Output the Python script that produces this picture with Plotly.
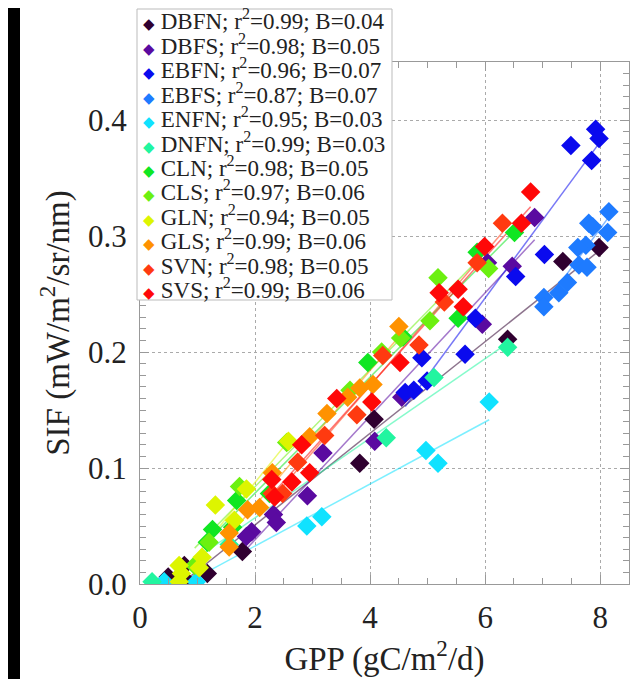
import numpy as np
import plotly.graph_objects as go

# ---- data ----
names = ["DBFN", "DBFS", "EBFN", "EBFS", "ENFN", "DNFN", "CLN", "CLS", "GLN", "GLS", "SVN", "SVS"]
r2 = ["0.99", "0.98", "0.96", "0.87", "0.95", "0.99", "0.98", "0.97", "0.94", "0.99", "0.98", "0.99"]
B = ["0.04", "0.05", "0.07", "0.07", "0.03", "0.03", "0.05", "0.06", "0.05", "0.06", "0.05", "0.06"]
colors = ["#300030", "#5a0aa0", "#0a0aee", "#1e7bff", "#10e2ff", "#22f5a0",
          "#10e622", "#6cf010", "#ddf500", "#ff9200", "#ff3a10", "#ff0808"]

DBFN_x = [7.98, 7.35, 6.39, 4.07, 3.82, 1.78, 1.17, 0.80, 0.77, 0.49]
DBFN_y = [0.290, 0.278, 0.211, 0.142, 0.104, 0.028, 0.009, 0.003, 0.016, 0.006]
DBFS_x = [6.86, 6.47, 6.04, 5.95, 4.55, 4.08, 3.18, 2.91, 2.32, 2.37, 1.94, 1.85]
DBFS_y = [0.316, 0.274, 0.277, 0.224, 0.161, 0.123, 0.113, 0.076, 0.060, 0.053, 0.045, 0.041]
EBFN_x = [7.92, 7.98, 7.49, 7.85, 7.03, 6.53, 5.83, 5.65, 4.90, 4.99, 4.76, 4.61]
EBFN_y = [0.392, 0.384, 0.378, 0.365, 0.284, 0.265, 0.229, 0.198, 0.195, 0.175, 0.167, 0.165]
EBFS_x = [8.15, 8.13, 7.80, 7.87, 7.75, 7.61, 7.63, 7.77, 7.43, 7.28, 7.02, 7.02]
EBFS_y = [0.321, 0.303, 0.311, 0.308, 0.292, 0.290, 0.275, 0.273, 0.260, 0.251, 0.247, 0.239]
ENFN_x = [6.07, 4.97, 5.18, 3.16, 2.90, 0.98, 0.42]
ENFN_y = [0.157, 0.115, 0.104, 0.058, 0.050, 0.002, 0.002]
DNFN_x = [6.39, 5.11, 4.28, 1.55, 0.21]
DNFN_y = [0.204, 0.178, 0.126, 0.034, 0.002]
CLN_x = [6.51, 5.86, 5.53, 4.57, 3.96, 2.25, 1.68, 1.26, 1.61, 1.17]
CLN_y = [0.303, 0.286, 0.229, 0.213, 0.191, 0.078, 0.072, 0.047, 0.049, 0.036]
CLS_x = [6.06, 5.18, 5.04, 4.53, 4.20, 3.65, 2.55, 1.73, 1.20, 0.95]
CLS_y = [0.272, 0.264, 0.227, 0.212, 0.200, 0.167, 0.122, 0.084, 0.036, 0.016]
GLN_x = [2.58, 1.85, 1.31, 1.64, 1.08, 0.68, 1.03, 0.72, 0.68]
GLN_y = [0.123, 0.082, 0.068, 0.055, 0.023, 0.016, 0.014, 0.009, 0.002]
GLS_x = [4.50, 4.05, 3.82, 3.61, 3.25, 2.95, 2.30, 2.08, 1.87, 1.55, 1.55]
GLS_y = [0.222, 0.172, 0.169, 0.161, 0.147, 0.127, 0.096, 0.066, 0.064, 0.044, 0.032]
SVN_x = [6.30, 5.86, 5.29, 4.85, 4.22, 3.77, 3.21, 2.74, 2.30, 2.48]
SVN_y = [0.311, 0.277, 0.243, 0.206, 0.197, 0.146, 0.128, 0.105, 0.078, 0.078]
SVS_x = [6.79, 6.63, 5.99, 5.53, 5.20, 5.62, 4.52, 4.03, 3.42, 2.81, 2.95, 2.64, 2.29, 2.34]
SVS_y = [0.338, 0.311, 0.291, 0.254, 0.251, 0.239, 0.191, 0.157, 0.160, 0.120, 0.096, 0.088, 0.090, 0.075]

xs = [DBFN_x, DBFS_x, EBFN_x, EBFS_x, ENFN_x, DNFN_x, CLN_x, CLS_x, GLN_x, GLS_x, SVN_x, SVS_x]
ys = [DBFN_y, DBFS_y, EBFN_y, EBFS_y, ENFN_y, DNFN_y, CLN_y, CLS_y, GLN_y, GLS_y, SVN_y, SVS_y]

FONT = "Liberation Serif, Times New Roman, serif"
TXT = "#222222"

def rgba(h, a):
    h = h.lstrip("#")
    return "rgba(%d,%d,%d,%.2f)" % (int(h[0:2], 16), int(h[2:4], 16), int(h[4:6], 16), a)

fig = go.Figure()
# regression lines
for n, c, x, y in zip(names, colors, xs, ys):
    x = np.array(x); y = np.array(y)
    k, b0 = np.polyfit(x, y, 1)
    lx = np.array([x.min(), x.max()])
    fig.add_trace(go.Scatter(x=lx, y=k * lx + b0, mode="lines",
                             line=dict(color=rgba(c, 0.55), width=1.5),
                             showlegend=False, hoverinfo="skip"))
# points
for n, c, x, y, r, bb in zip(names, colors, xs, ys, r2, B):
    fig.add_trace(go.Scatter(x=x, y=y, mode="markers",
                             marker=dict(symbol="diamond", size=15, color=c, line=dict(width=0)),
                             name="%s; r\u00b2=%s; B=%s" % (n, r, bb), showlegend=False))

# page offset: the html body has an 8px margin
OFF = 8
W, H = 632 - OFF, 679 - OFF
L, R, T, Bm = 140 - OFF, W - (629 - OFF), 62 - OFF, H - (584 - OFF)
pw, ph = W - L - R, H - T - Bm
def px2paper_x(p):  # p in page pixels
    return (p - OFF - L) / pw
def px2paper_y(p):
    return (H - Bm - (p - OFF)) / ph

axis_common = dict(showline=True, linecolor="#999999", linewidth=1, mirror="ticks",
                   ticks="inside", tickcolor="#999999", ticklen=9, tickwidth=1,
                   showgrid=True, gridcolor="#aaaaaa", griddash="dot", gridwidth=1,
                   zeroline=False, tickfont=dict(family=FONT, size=31, color=TXT))

fig.update_layout(
    width=W, height=H,
    margin=dict(l=L, r=R, t=T, b=Bm, autoexpand=False),
    paper_bgcolor="white", plot_bgcolor="white",
    font=dict(family=FONT, color=TXT),
    xaxis=dict(range=[0, 8.5], dtick=2, tick0=0,
               minor=dict(dtick=0.5, ticks="inside", ticklen=6, tickcolor="#999999", showgrid=False),
               title=dict(text="GPP (gC/m<sup>2</sup>/d)", font=dict(family=FONT, size=33, color=TXT), standoff=8),
               ticklabelstandoff=6, automargin=False, **axis_common),
    yaxis=dict(range=[0, 0.45], dtick=0.1, tick0=0, tickformat=".1f",
               minor=dict(dtick=0.01, ticks="inside", ticklen=6, tickcolor="#999999", showgrid=False),
               title=dict(text="SIF (mW/m<sup>2</sup>/sr/nm)", font=dict(family=FONT, size=33, color=TXT), standoff=8),
               ticklabelstandoff=6, automargin=False, **axis_common),
    showlegend=False,
)

# legend box (tight rows, as in the original)
fig.add_shape(type="rect", xref="paper", yref="paper", layer="above",
              x0=px2paper_x(137), x1=px2paper_x(392), y0=px2paper_y(300), y1=px2paper_y(9),
              fillcolor="white", line=dict(color="#bbbbbb", width=1))
for i, (n, c, r, bb) in enumerate(zip(names, colors, r2, B)):
    fig.add_annotation(xref="paper", yref="paper", x=px2paper_x(141), y=px2paper_y(20 + 24.4 * i),
                       xanchor="left", yanchor="middle", showarrow=False,
                       text='<span style="color:%s;font-size:15px">\u25c6</span> %s; r<sup>2</sup>=%s; B=%s' % (c, n, r, bb),
                       font=dict(family=FONT, size=23, color=TXT))

# black strip at the left edge of the original picture
fig.add_shape(type="rect", xref="paper", yref="paper", layer="above",
              x0=px2paper_x(OFF), x1=px2paper_x(20), y0=px2paper_y(679), y1=px2paper_y(OFF),
              fillcolor="black", line=dict(width=0))

fig.write_html("out.html")
